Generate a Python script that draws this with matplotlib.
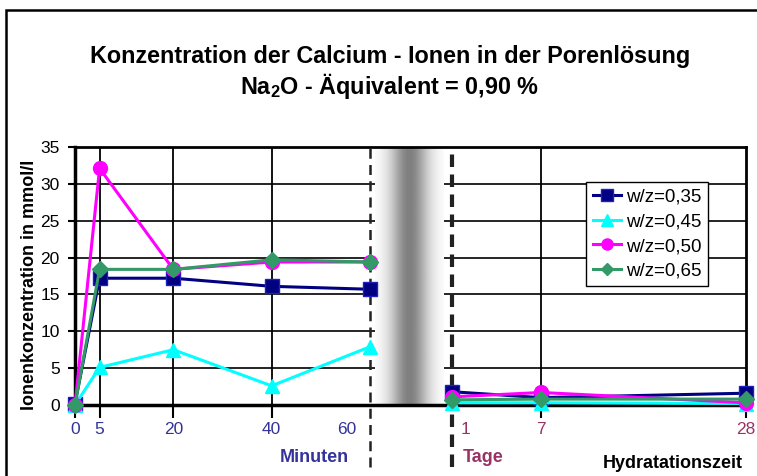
import numpy as np
import matplotlib.pyplot as plt
from matplotlib.patches import Rectangle
from matplotlib.transforms import ScaledTranslation

plt.rcParams['font.family'] = ['Liberation Sans', 'DejaVu Sans']
plt.rcParams['mathtext.fontset'] = 'custom'
plt.rcParams['mathtext.rm'] = 'Liberation Sans:bold'
plt.rcParams['mathtext.bf'] = 'Liberation Sans:bold'

# Zeitpunkte in Minuten (1 Tag = 1440 min)
zeit_min = [0, 5, 20, 40, 60, 1440, 10080, 40320]
serien = ['w/z=0,35', 'w/z=0,45', 'w/z=0,50', 'w/z=0,65']
wz035 = [0.2, 17.2, 17.2, 16.1, 15.7, 1.8, 1.0, 1.6]
wz045 = [0.0, 5.1, 7.5, 2.6, 7.9, 0.3, 0.3, 0.2]
wz050 = [0.0, 32.1, 18.4, 19.4, 19.4, 1.1, 1.7, 0.3]
wz065 = [0.0, 18.4, 18.4, 19.7, 19.4, 0.7, 0.8, 0.8]
n_minuten = 5  # die ersten 5 Werte sind Minuten, danach Tage

tick_werte = [0, 5, 20, 40, 60, 1440, 10080, 40320]
tick_texte = ['0', '5', '20', '40', '60', '1', '7', '28']
gitter_x = [5, 20, 40, 10080]
bruch = [60, 1440]

# gebrochene Zeitachse: Minuten linear, dann Tage gestaucht
bp_zeit = [0, 60, 1440, 10080, 40320]
bp_pos = [0, 295, 377, 466, 671]


def fwd(x):
    return np.interp(x, bp_zeit, bp_pos)


def inv(p):
    return np.interp(p, bp_pos, bp_zeit)


fig = plt.figure(figsize=(7.57, 4.76), dpi=100)
ax = fig.add_axes([75 / 757, 1 - 405 / 476, 671 / 757, 258 / 476])
ax.set_xscale('function', functions=(fwd, inv))

# Rahmen um das ganze Diagramm
fig.patches.append(Rectangle((6 / 757, -0.05), 1.1, 1 - 10 / 476 + 0.05,
                             transform=fig.transFigure, fill=False,
                             edgecolor='black', lw=1.8))

# Gitter
for g in gitter_x:
    ax.axvline(g, color='black', lw=1.3, zorder=1)
for y in range(5, 35, 5):
    ax.axhline(y, color='black', lw=1.2, zorder=1)

# grauer Verlauf in der Zeitlücke
p0 = (fwd(bruch[0]) + 5) / bp_pos[-1]
p1 = (fwd(bruch[1]) - 8) / bp_pos[-1]
xs = np.linspace(-1, 1, 200)
verlauf = 1 - 0.5 * np.exp(-(xs / 0.55) ** 2)
ax.imshow(verlauf[None, :], cmap='gray', vmin=0, vmax=1, aspect='auto',
          extent=(p0, p1, 0, 1), transform=ax.transAxes, zorder=2,
          interpolation='bilinear')

ax.axvline(bruch[0], ymin=-0.24, ymax=1, color='#222222', lw=1.8,
           ls=(0, (4, 2.5)), clip_on=False, zorder=4)
ax.axvline(bruch[1], ymin=-0.24, ymax=1, color='#222222', lw=3,
           ls=(0, (3, 1.8)), clip_on=False, zorder=4)

stile = [
    dict(color='#000080', marker='s', ms=10, mfc='#000080', mec='#2020c0'),
    dict(color='#00ffff', marker='^', ms=10, mfc='#00ffff', mec='#00ffff'),
    dict(color='#ff00ff', marker='o', ms=10, mfc='#ff00ff', mec='#ff00ff'),
    dict(color='#339966', marker='D', ms=8, mfc='#339966', mec='#339966'),
]
for werte, name, st in zip([wz035, wz045, wz050, wz065], serien, stile):
    ax.plot(zeit_min[:n_minuten], werte[:n_minuten], lw=2.2, clip_on=False,
            zorder=5, label=name, **st)
    ax.plot(zeit_min[n_minuten:], werte[n_minuten:], lw=2.2, clip_on=False,
            zorder=5, **st)

ax.set_xlim(0, 40320)
ax.set_ylim(0, 35)
ax.set_yticks(range(0, 40, 5))
ax.set_xticks(tick_werte, tick_texte)
ax.tick_params(axis='x', direction='out', length=9, width=1.5, pad=3,
               labelsize=12.5)
ax.tick_params(axis='y', direction='out', length=5, width=1.5, pad=6,
               labelsize=12.5)

for i, lbl in enumerate(ax.get_xticklabels()):
    lbl.set_color('#333399' if i < n_minuten else '#993366')
ticks = ax.xaxis.get_major_ticks()
ticks[4].tick1line.set_visible(False)
ticks[5].tick1line.set_visible(False)
ticks[4].label1.set_transform(ticks[4].label1.get_transform()
                              + ScaledTranslation(-0.23, 0, fig.dpi_scale_trans))
ticks[5].label1.set_transform(ticks[5].label1.get_transform()
                              + ScaledTranslation(0.13, 0, fig.dpi_scale_trans))

ax.spines['left'].set_linewidth(2.5)
ax.spines['bottom'].set_linewidth(2.5)
ax.spines['top'].set_linewidth(2)
ax.spines['right'].set_linewidth(2)

leg = ax.legend(loc='upper left', bbox_to_anchor=(0.7615, 0.864), fontsize=13.5,
                frameon=True, fancybox=False, framealpha=1, edgecolor='black',
                handlelength=1.5, handletextpad=0.3, borderpad=0.35,
                labelspacing=0.4, borderaxespad=0, markerscale=0.8)
leg.get_frame().set_linewidth(1)
leg.set_zorder(6)

# Titel
fig.text(390 / 757, 1 - 57 / 476, 'Konzentration der Calcium - Ionen in der Porenlösung',
         ha='center', va='center', fontsize=16.8, fontweight='bold')
fig.text(390 / 757, 1 - 86 / 476, r'Na$_\mathbf{2}$O - Äquivalent = 0,90 %',
         ha='center', va='center', fontsize=16.8, fontweight='bold')

# Achsentitel
fig.text(30 / 757, 1 - 285 / 476, 'Ionenkonzentration in mmol/l', rotation=90,
         ha='center', va='center', fontsize=13, fontweight='bold')
fig.text(314 / 757, 1 - 458 / 476, 'Minuten', ha='center', va='center',
         fontsize=13, fontweight='bold', color='#333399')
fig.text(483 / 757, 1 - 458 / 476, 'Tage', ha='center', va='center',
         fontsize=13, fontweight='bold', color='#993366')
fig.text(673 / 757, 1 - 463 / 476, 'Hydratationszeit', ha='center', va='center',
         fontsize=13, fontweight='bold')

fig.savefig('out.png', dpi=100)
